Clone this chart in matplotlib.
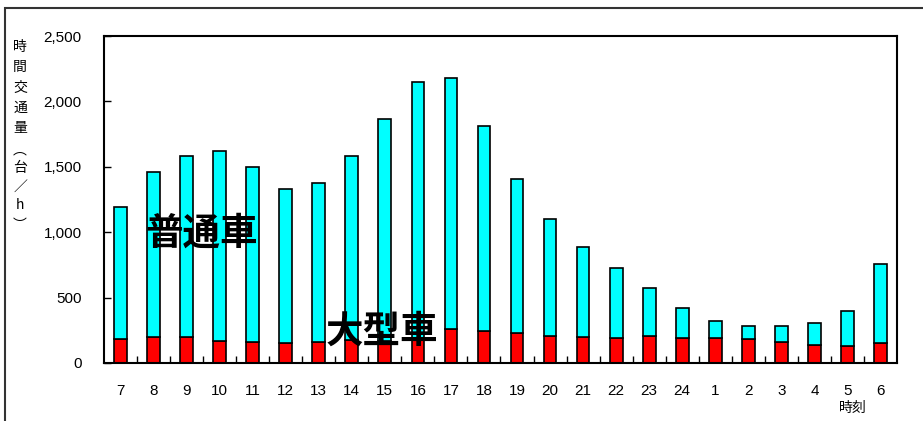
import matplotlib
matplotlib.use("Agg")
import matplotlib.pyplot as plt
from matplotlib.patches import Rectangle
import numpy as np

plt.rcParams['font.family'] = ['Liberation Sans', 'Noto Sans CJK JP', 'DejaVu Sans']

hours = ["7", "8", "9", "10", "11", "12", "13", "14", "15", "16", "17", "18",
         "19", "20", "21", "22", "23", "24", "1", "2", "3", "4", "5", "6"]
total = [1190, 1462, 1582, 1623, 1496, 1332, 1376, 1582, 1863, 2146, 2176, 1810,
         1409, 1103, 887, 724, 571, 420, 323, 280, 280, 303, 400, 757]
large = [183, 196, 196, 170, 160, 153, 160, 176, 170, 180, 260, 247,
         227, 206, 196, 193, 204, 193, 193, 183, 160, 140, 127, 150]
normal = [t - l for t, l in zip(total, large)]
yticks = [0, 500, 1000, 1500, 2000, 2500]

fig = plt.figure(figsize=(9.23, 4.21), dpi=100)
ax = fig.add_axes([104 / 923, 1 - 363 / 421, 793 / 923, 327 / 421])

x = np.arange(len(hours))
w = 0.385
ax.bar(x, large, width=w, color="#ff0000", edgecolor="black", linewidth=1.2, zorder=2)
ax.bar(x, normal, width=w, bottom=large, color="#00ffff", edgecolor="black",
       linewidth=1.2, zorder=2)

ax.set_xlim(-0.5, len(hours) - 0.5)
ax.set_ylim(0, 2500)
ax.set_yticks(yticks)
ax.set_yticklabels([f"{v:,}" for v in yticks], fontsize=11)
ax.tick_params(axis="y", direction="in", length=5, width=1, pad=16)
ax.set_xticks(x)
ax.set_xticklabels(hours, fontsize=11)
ax.tick_params(axis="x", length=0, pad=15)
ax.set_xticks(np.arange(len(hours) - 1) + 0.5, minor=True)
ax.tick_params(axis="x", which="minor", direction="in", length=5, width=1)
for s in ax.spines.values():
    s.set_linewidth(1.5)
    s.set_color("black")

ax.text(2.45, 995, "普通車", fontsize=27, fontweight="bold",
        family=["Noto Sans CJK JP"], ha="center", va="center", zorder=5)
ax.text(7.92, 245, "大型車", fontsize=27, fontweight="bold",
        family=["Noto Sans CJK JP"], ha="center", va="center", zorder=5)

# vertical axis title, one character per line
title_chars = ["時", "間", "交", "通", "量", "︵", "台", "／", "h", "︶"]
ys = [47, 67, 88, 108, 128, 150, 168, 187, 205, 225]
for ch, yy in zip(title_chars, ys):
    fig.text(20 / 923, 1 - yy / 421, ch, fontsize=10,
             family=["Noto Sans CJK JP", "DejaVu Sans"], ha="center", va="center")

fig.text(853 / 923, 1 - 408 / 421, "時刻", fontsize=10,
         family=["Noto Sans CJK JP"], ha="center", va="center")

# outer frame
fig.patches.append(Rectangle((5 / 923, -0.1), 2, 1 - 8 / 421 + 0.1,
                             transform=fig.transFigure, fill=False,
                             edgecolor="#333333", linewidth=1.5))

fig.savefig("out.png", dpi=100)
